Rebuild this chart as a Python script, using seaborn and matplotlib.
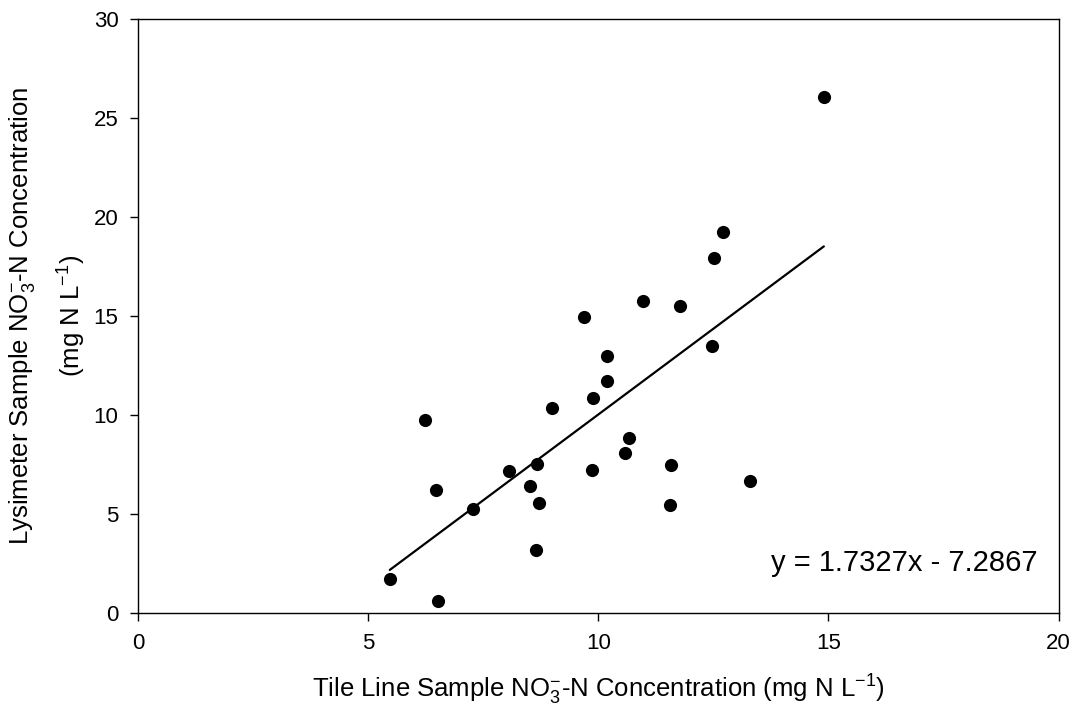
import numpy as np
import pandas as pd
import matplotlib
matplotlib.use("Agg")
import matplotlib.pyplot as plt
import seaborn as sns

# Tile line vs lysimeter NO3-N readings
tile_no3 = [5.47, 6.52, 6.23, 6.47, 7.28, 8.05, 8.52, 8.66, 8.71, 8.64,
            9.00, 9.68, 9.89, 9.87, 10.18, 10.18, 10.66, 10.57, 10.97, 14.90,
            12.72, 12.51, 11.77, 12.46, 11.59, 13.29, 11.55]
lys_no3 = [1.73, 0.62, 9.77, 6.21, 5.28, 7.20, 6.45, 7.56, 5.59, 3.21,
           10.37, 14.96, 10.86, 7.25, 13.00, 11.72, 8.84, 8.11, 15.76, 26.08,
           19.26, 17.96, 15.52, 13.50, 7.49, 6.68, 5.48]

# trendline reported on the chart
slope = 1.7327
intercept = -7.2867

x_ticks = [0, 5, 10, 15, 20]
y_ticks = [0, 5, 10, 15, 20, 25, 30]

df = pd.DataFrame({"tile": tile_no3, "lys": lys_no3})
fit = pd.DataFrame({"tile": [min(tile_no3), max(tile_no3)]})
fit["lys"] = slope * fit["tile"] + intercept

sns.set_style("ticks")
plt.rcParams["font.family"] = ["Liberation Sans", "DejaVu Sans"]
plt.rcParams["mathtext.fontset"] = "custom"
plt.rcParams["mathtext.rm"] = "Liberation Sans"
plt.rcParams["mathtext.it"] = "Liberation Sans:italic"
plt.rcParams["text.color"] = "black"
plt.rcParams["axes.labelcolor"] = "black"

fig, ax = plt.subplots(figsize=(10.78, 7.14), dpi=100)
fig.subplots_adjust(left=0.128, right=0.982, top=0.973, bottom=0.141)

sns.scatterplot(data=df, x="tile", y="lys", ax=ax, color="black",
                s=90, edgecolor="black", linewidth=0, zorder=3)
sns.lineplot(data=fit, x="tile", y="lys", ax=ax, color="black", lw=1.6)

ax.set_xlim(0, 20)
ax.set_ylim(0, 30)
ax.set_xticks(x_ticks)
ax.set_yticks(y_ticks)
ax.tick_params(direction="out", length=6, width=1, labelsize=16, colors="black",
               pad=8)
for sp in ax.spines.values():
    sp.set_visible(True)
    sp.set_linewidth(1)
    sp.set_color("black")

ax.set_xlabel(r"Tile Line Sample NO$_3^{\mathregular{-}}$-N Concentration (mg N L$^{\mathregular{-1}}$)",
              fontsize=18.5, labelpad=14)
ax.set_ylabel("Lysimeter Sample NO$_3^{\\mathregular{-}}$-N Concentration\n(mg N L$^{\\mathregular{-1}}$)",
              fontsize=18.5, labelpad=4, linespacing=1.75)

ax.text(19.55, 2.55, f"y = {slope}x - {abs(intercept)}", fontsize=21,
        ha="right", va="center")

fig.savefig("out.png", dpi=100)
